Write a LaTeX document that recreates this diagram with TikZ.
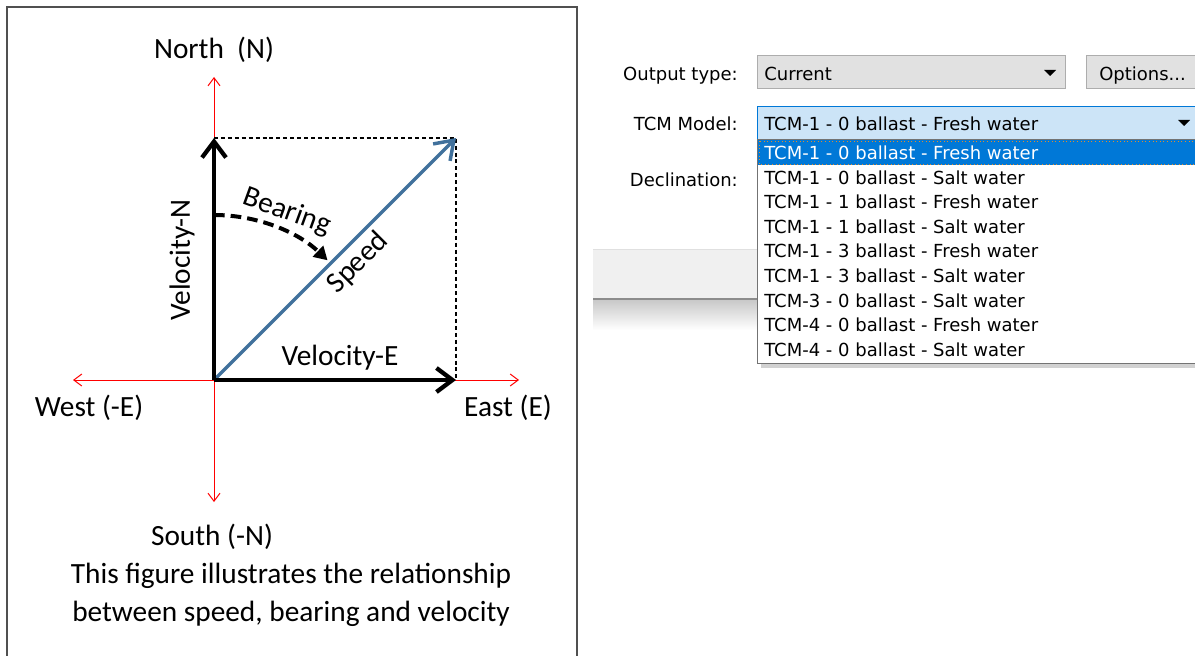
\documentclass[tikz,border=0pt]{standalone}
\usepackage{fontspec}
\setmainfont{Carlito}
\newfontfamily\uifont{DejaVu Sans}
\usetikzlibrary{arrows.meta}
\definecolor{speedblue}{RGB}{65,113,156}
\definecolor{btngray}{RGB}{225,225,225}
\definecolor{btnborder}{RGB}{173,173,173}
\definecolor{selblue}{RGB}{0,120,215}
\definecolor{lightsel}{RGB}{204,228,247}
\definecolor{bandgray}{RGB}{240,240,240}
\definecolor{framegray}{RGB}{80,80,80}
\definecolor{focusorange}{RGB}{230,140,40}
\tikzset{
  lbl/.style={font=\fontsize{22}{28.5}\selectfont, inner sep=0pt, text=black},
  ui/.style={font=\uifont\fontsize{13.5}{16}\selectfont, inner sep=0pt, text=black},
  axisarrow/.style={red, line width=0.75pt, -{Straight Barb[length=6pt,width=9pt]}},
  vecarrow/.style={black, line width=3.2pt, -{Straight Barb[length=12pt,width=18pt]}},
  speedvec/.style={speedblue, line width=2.6pt, -{Straight Barb[length=13pt,width=18pt]}},
  guide/.style={black, line width=0.9pt, dash pattern=on 3pt off 2.2pt},
  bearingarc/.style={black, line width=3pt, dash pattern=on 8pt off 4.5pt, -{Triangle[length=10pt,width=11pt]}},
  combobox/.style={draw=btnborder, fill=btngray, line width=0.75pt},
}
\begin{document}
\begin{tikzpicture}[x=0.75pt,y=-0.75pt]
\useasboundingbox (0,0) rectangle (1195,656);
\fill[white] (0,0) rectangle (1195,656);

% ---------------- left panel ----------------
\draw[framegray, line width=0.9pt] (7,670) -- (7,7) -- (577,7) -- (577,670);

\coordinate (O) at (214,380);
\coordinate (Ntip) at (214,77);
\coordinate (Stip) at (214,502);
\coordinate (Wtip) at (73,380);
\coordinate (Etip) at (519,380);
\coordinate (VNtip) at (214,138);
\coordinate (VEtip) at (456,380);
\coordinate (C) at (456,138);
\coordinate (ArcStart) at (214,215);

\draw[axisarrow] (O) -- (Ntip);
\draw[axisarrow] (O) -- (Stip);
\draw[axisarrow] (O) -- (Wtip);
\draw[axisarrow] (O) -- (Etip);

\draw[guide] (VNtip) -- (C) -- (VEtip);

\draw[speedvec] (O) -- (C);
\draw[vecarrow] (O) -- (VNtip);
\draw[vecarrow] (O) -- (VEtip);

\draw[bearingarc] (ArcStart) arc[start angle=-90, end angle=-46.5, radius=165];

\node[lbl] (north) at (214,50) {North\ \ (N)};
\node[lbl] (south) at (212,537) {South (-N)};
\node[lbl] (west) at (89,408) {West (-E)};
\node[lbl] (east) at (508,408) {East (E)};
\node[lbl] (velE) at (340,358) {Velocity-E};
\node[lbl, rotate=90] (velN) at (182,260) {Velocity-N};
\node[lbl, rotate=-20] (bearing) at (287,212) {Bearing};
\node[lbl, rotate=45] (speed) at (358,263) {Speed};
\node[lbl, align=center] (caption) at (291,595) {This figure illustrates the relationship\\between speed, bearing and velocity};

% ---------------- right panel ----------------
\shade[top color=black!22, bottom color=white] (593,299) rectangle (757,330);
\fill[bandgray] (593,249) rectangle (757,299);
\draw[black!12, line width=0.75pt] (593,249) -- (757,249);
\draw[black!45, line width=1.2pt] (593,299) -- (757,299);

\node[ui, anchor=base east] (lblout) at (738,80.7) {Output type:};
\node[ui, anchor=base east] (lbltcm) at (738,131) {TCM Model:};
\node[ui, anchor=base east] (lbldec) at (738,186.7) {Declination:};

% output type combo
\draw[combobox] (757,56) rectangle (1065,89);
\node[ui, anchor=base west] (outval) at (764,80.7) {Current};
\fill[black] (1044,70) -- (1056,70) -- (1050,76) -- cycle;

% options button
\draw[combobox] (1086,56) rectangle (1205,89);
\node[ui, anchor=base west] (options) at (1099,80.7) {Options...};

% TCM combo
\draw[draw=selblue, fill=lightsel, line width=0.75pt] (757,107) rectangle (1205,140);
\node[ui, anchor=base west] (tcmval) at (764,131) {TCM-1 - 0 ballast - Fresh water};
\fill[black] (1178,120) -- (1190,120) -- (1184,126) -- cycle;

% dropdown list
\fill[black!18] (761,363) rectangle (1205,368);
\draw[draw=black!55, fill=white, line width=0.75pt] (757,140) rectangle (1205,363);
\fill[selblue] (758,140.5) rectangle (1205,165);
\draw[focusorange, dotted, line width=0.7pt] (759,141.2) rectangle (1205,164.3);

\node[ui, anchor=base west, text=white] (item0) at (764,159.5) {TCM-1 - 0 ballast - Fresh water};
\foreach \txt [count=\i] in {TCM-1 - 0 ballast - Salt water,
                              TCM-1 - 1 ballast - Fresh water,
                              TCM-1 - 1 ballast - Salt water,
                              TCM-1 - 3 ballast - Fresh water,
                              TCM-1 - 3 ballast - Salt water,
                              TCM-3 - 0 ballast - Salt water,
                              TCM-4 - 0 ballast - Fresh water,
                              TCM-4 - 0 ballast - Salt water}
  \node[ui, anchor=base west] (item\i) at (764,159.5+24.6*\i) {\txt};
\end{tikzpicture}
\end{document}
